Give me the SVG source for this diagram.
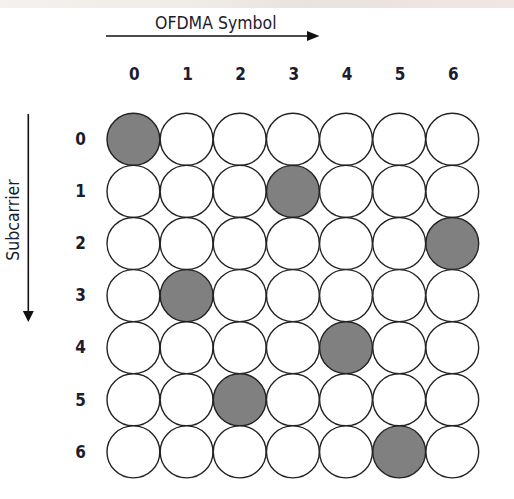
<svg xmlns="http://www.w3.org/2000/svg" width="514" height="499" viewBox="0 0 514 499">
<style>
.lbl{font-family:"DejaVu Sans Condensed","DejaVu Sans",sans-serif;fill:#1c1c2c}
.num{font-size:17px;font-weight:bold;text-anchor:middle}
.ttl{font-size:17.5px}
.c{fill:#ffffff;stroke:#222;stroke-width:1.4}
.g{fill:#808080;stroke:#222;stroke-width:1.4}
.ax{stroke:#111;stroke-width:1.6;fill:none}
</style>
<defs>
<linearGradient id="top" x1="0" y1="0" x2="1" y2="0">
<stop offset="0" stop-color="#f4f1ee"/>
<stop offset="0.4" stop-color="#efebe6"/>
<stop offset="0.6" stop-color="#e9e2dd"/>
<stop offset="1" stop-color="#f2e6e2"/>
</linearGradient>
</defs>
<rect width="514" height="499" fill="#ffffff"/>
<rect width="514" height="8" fill="url(#top)"/>
<g id="connectors">
<line class="ax" x1="106" y1="36" x2="308" y2="36"/>
<polygon points="307,31 319.5,36 307,41" fill="#111"/>
<line class="ax" x1="28.3" y1="114" x2="28.3" y2="312"/>
<polygon points="22.8,311 28.3,322 33.8,311" fill="#111"/>
</g>
<g id="titles">
<text class="lbl ttl" x="155" y="29.3">OFDMA Symbol</text>
<text class="lbl ttl" transform="translate(18.5,220) rotate(-90)" text-anchor="middle">Subcarrier</text>
</g>
<g id="col-labels">
<text class="lbl num" x="134.4" y="80">0</text>
<text class="lbl num" x="187.5" y="80">1</text>
<text class="lbl num" x="240.7" y="80">2</text>
<text class="lbl num" x="293.9" y="80">3</text>
<text class="lbl num" x="347" y="80">4</text>
<text class="lbl num" x="400.2" y="80">5</text>
<text class="lbl num" x="453.3" y="80">6</text>
</g>
<g id="row-labels">
<text class="lbl num" x="80.7" y="145">0</text>
<text class="lbl num" x="80.7" y="197.1">1</text>
<text class="lbl num" x="80.7" y="249.2">2</text>
<text class="lbl num" x="80.7" y="301.3">3</text>
<text class="lbl num" x="80.7" y="353.4">4</text>
<text class="lbl num" x="80.7" y="405.5">5</text>
<text class="lbl num" x="80.7" y="457.6">6</text>
</g>
<g id="row0">
<ellipse class="g" cx="133.4" cy="139.3" rx="26.4" ry="26"/>
<ellipse class="c" cx="186.6" cy="139.3" rx="26.4" ry="26"/>
<ellipse class="c" cx="239.7" cy="139.3" rx="26.4" ry="26"/>
<ellipse class="c" cx="292.9" cy="139.3" rx="26.4" ry="26"/>
<ellipse class="c" cx="346" cy="139.3" rx="26.4" ry="26"/>
<ellipse class="c" cx="399.2" cy="139.3" rx="26.4" ry="26"/>
<ellipse class="c" cx="452.3" cy="139.3" rx="26.4" ry="26"/>
</g>
<g id="row1">
<ellipse class="c" cx="133.4" cy="191.4" rx="26.4" ry="26"/>
<ellipse class="c" cx="186.6" cy="191.4" rx="26.4" ry="26"/>
<ellipse class="c" cx="239.7" cy="191.4" rx="26.4" ry="26"/>
<ellipse class="g" cx="292.9" cy="191.4" rx="26.4" ry="26"/>
<ellipse class="c" cx="346" cy="191.4" rx="26.4" ry="26"/>
<ellipse class="c" cx="399.2" cy="191.4" rx="26.4" ry="26"/>
<ellipse class="c" cx="452.3" cy="191.4" rx="26.4" ry="26"/>
</g>
<g id="row2">
<ellipse class="c" cx="133.4" cy="243.5" rx="26.4" ry="26"/>
<ellipse class="c" cx="186.6" cy="243.5" rx="26.4" ry="26"/>
<ellipse class="c" cx="239.7" cy="243.5" rx="26.4" ry="26"/>
<ellipse class="c" cx="292.9" cy="243.5" rx="26.4" ry="26"/>
<ellipse class="c" cx="346" cy="243.5" rx="26.4" ry="26"/>
<ellipse class="c" cx="399.2" cy="243.5" rx="26.4" ry="26"/>
<ellipse class="g" cx="452.3" cy="243.5" rx="26.4" ry="26"/>
</g>
<g id="row3">
<ellipse class="c" cx="133.4" cy="295.6" rx="26.4" ry="26"/>
<ellipse class="g" cx="186.6" cy="295.6" rx="26.4" ry="26"/>
<ellipse class="c" cx="239.7" cy="295.6" rx="26.4" ry="26"/>
<ellipse class="c" cx="292.9" cy="295.6" rx="26.4" ry="26"/>
<ellipse class="c" cx="346" cy="295.6" rx="26.4" ry="26"/>
<ellipse class="c" cx="399.2" cy="295.6" rx="26.4" ry="26"/>
<ellipse class="c" cx="452.3" cy="295.6" rx="26.4" ry="26"/>
</g>
<g id="row4">
<ellipse class="c" cx="133.4" cy="347.7" rx="26.4" ry="26"/>
<ellipse class="c" cx="186.6" cy="347.7" rx="26.4" ry="26"/>
<ellipse class="c" cx="239.7" cy="347.7" rx="26.4" ry="26"/>
<ellipse class="c" cx="292.9" cy="347.7" rx="26.4" ry="26"/>
<ellipse class="g" cx="346" cy="347.7" rx="26.4" ry="26"/>
<ellipse class="c" cx="399.2" cy="347.7" rx="26.4" ry="26"/>
<ellipse class="c" cx="452.3" cy="347.7" rx="26.4" ry="26"/>
</g>
<g id="row5">
<ellipse class="c" cx="133.4" cy="399.8" rx="26.4" ry="26"/>
<ellipse class="c" cx="186.6" cy="399.8" rx="26.4" ry="26"/>
<ellipse class="g" cx="239.7" cy="399.8" rx="26.4" ry="26"/>
<ellipse class="c" cx="292.9" cy="399.8" rx="26.4" ry="26"/>
<ellipse class="c" cx="346" cy="399.8" rx="26.4" ry="26"/>
<ellipse class="c" cx="399.2" cy="399.8" rx="26.4" ry="26"/>
<ellipse class="c" cx="452.3" cy="399.8" rx="26.4" ry="26"/>
</g>
<g id="row6">
<ellipse class="c" cx="133.4" cy="451.9" rx="26.4" ry="26"/>
<ellipse class="c" cx="186.6" cy="451.9" rx="26.4" ry="26"/>
<ellipse class="c" cx="239.7" cy="451.9" rx="26.4" ry="26"/>
<ellipse class="c" cx="292.9" cy="451.9" rx="26.4" ry="26"/>
<ellipse class="c" cx="346" cy="451.9" rx="26.4" ry="26"/>
<ellipse class="g" cx="399.2" cy="451.9" rx="26.4" ry="26"/>
<ellipse class="c" cx="452.3" cy="451.9" rx="26.4" ry="26"/>
</g>
</svg>
